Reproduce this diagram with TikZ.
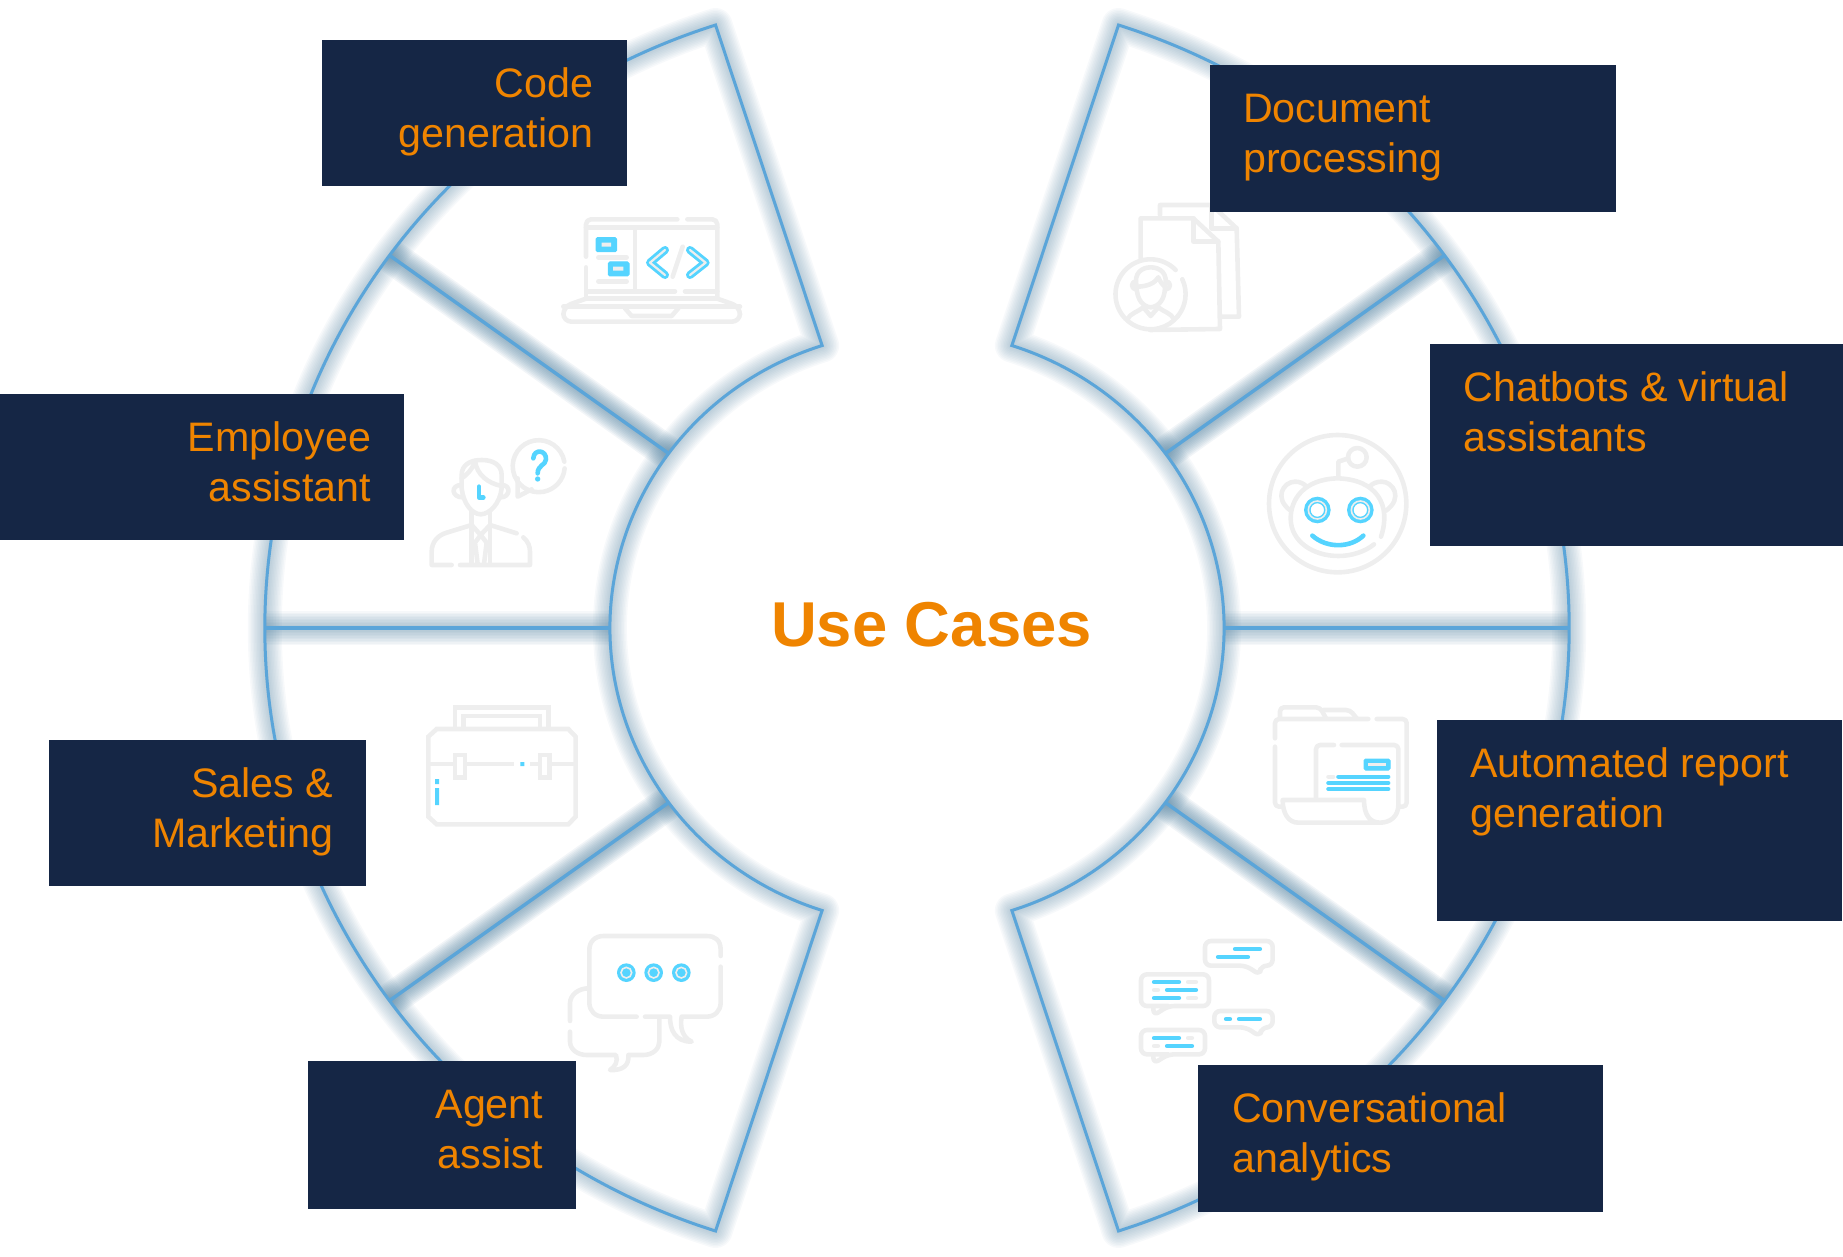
\documentclass[tikz,border=0pt]{standalone}
\usepackage{fontspec}
\setmainfont{Liberation Sans}
\usepackage{xcolor}
\usetikzlibrary{positioning}
\definecolor{ringblue}{HTML}{5BA5D9}
\definecolor{glowblue}{HTML}{4F7F9E}
\definecolor{boxnavy}{HTML}{152645}
\definecolor{textorange}{HTML}{EF8400}
\definecolor{icongrey}{HTML}{EEEEEE}
\definecolor{iconblue}{HTML}{55D4FF}
\tikzset{
	usecase/.style={fill=boxnavy, anchor=north west, inner sep=0},
	usetext/.style={text=textorange, inner sep=0, font=\fontsize{41.2}{50.4}\selectfont, execute at begin node=\strut},
	iconat/.style={shift={#1}, x=.3333pt, y=-.3333pt},
	grey/.style={draw=icongrey, line width=4.6pt, line cap=round, line join=round},
	blue/.style={draw=iconblue, line width=4.6pt, line cap=round, line join=round},
	blueblock/.style={fill=iconblue, draw=iconblue, line width=1pt, rounded corners=1.5pt},
	bar/.style={line width=4.2pt, line cap=round},
	glow/.style={glowblue, line join=round, opacity=#1},
}
\begin{document}
\begin{tikzpicture}[x=1pt, y=-1pt]
	\useasboundingbox (0,0) rectangle (1843,1256);
	% ring corners
	\begin{scope}[shift={(917,628)}]
		\foreach \a in {-72,-36,0,36,72,108,144,180,216,252} {
			\coordinate (out\a) at (\a:652 and 634);
			\coordinate (in\a) at (\a:307 and 297);
		}
	\end{scope}
	\def\ringright{(out-72) arc[start angle=-72, end angle=72, x radius=652, y radius=634] -- (in72) arc[start angle=72, end angle=-72, x radius=307, y radius=297] -- cycle}
	\def\ringleft{(out108) arc[start angle=108, end angle=252, x radius=652, y radius=634] -- (in252) arc[start angle=252, end angle=108, x radius=307, y radius=297] -- cycle}
	% blurred edge
	\foreach \wd in {34,31,...,4} {
		\draw[glow=.045, line width=\wd pt] \ringright;
		\draw[glow=.045, line width=\wd pt] \ringleft;
		\foreach \a in {-36,36,144,216}
			\draw[glow=.075, line width=\wd pt] (in\a) -- (out\a);
		\foreach \a in {0,180}
			\draw[glow=.05, line width=\wd pt] (in\a) -- (out\a);
	}
	\draw[ringblue, line width=3pt] \ringright;
	\draw[ringblue, line width=3pt] \ringleft;
	\foreach \a in {-36,0,36,144,180,216}
		\draw[ringblue, line width=3.4pt] (in\a) -- (out\a);

	% laptop
	\begin{scope}[iconat={(540,180)}]
		\draw[grey, rounded corners=5pt] (138,230) -- (138,118) -- (412,118);
		\draw[grey, rounded corners=5pt] (442,118) -- (532,118) -- (532,356);
		\draw[grey] (138,262) -- (138,356);
		\draw[grey] (138,142) -- (532,142);
		\draw[grey] (285,142) -- (285,334);
		\draw[grey] (140,334) -- (405,334) (435,334) -- (532,334);
		\draw[grey] (138,356) -- (532,356);
		\draw[grey, rounded corners=8pt] (138,356) -- (70,380) -- (70,425) -- (600,425) -- (600,380) -- (532,356);
		\draw[grey] (70,380) -- (600,380);
		\draw[grey] (255,385) -- (275,408) -- (395,408) -- (415,385);
		\draw[grey] (175,232) -- (260,232) (175,304) -- (260,304);
		\draw[grey] (428,200) -- (398,290);
		\draw[blueblock] (168,173) rectangle (230,215);
		\draw[blueblock] (205,246) rectangle (267,288);
		\fill[icongrey] (185,188) rectangle (213,200) (219,260) rectangle (250,272);
		\foreach \pts in {{(375,210) -- (330,248) -- (375,285)},{(450,210) -- (497,248) -- (450,285)}} {
			\draw[blue, line width=8pt] \pts;
			\draw[grey, line width=2.2pt] \pts;
		}
	\end{scope}
	% documents
	\begin{scope}[iconat={(1090,190)}]
		\draw[grey] (210,75) -- (210,45) -- (365,45) -- (440,115) -- (447,380) -- (395,380);
		\draw[grey] (365,45) -- (365,115) -- (440,115);
		\draw[grey] (152,205) -- (152,85) -- (310,85) -- (385,155) -- (390,417) -- (180,420);
		\draw[grey] (310,85) -- (310,155) -- (385,155);
		\draw[grey] (257,240) arc[start angle=-44, end angle=-322, radius=105];
		\draw[grey] (277,268) arc[start angle=-25, end angle=40, radius=105];
		\draw[grey] (140,290) .. controls (130,250) and (155,232) .. (182,232) .. controls (210,232) and (235,250) .. (225,290) .. controls (225,330) and (205,350) .. (182,352) .. controls (160,350) and (140,330) .. (140,290);
		\draw[grey] (140,290) .. controls (170,290) and (195,280) .. (205,262) .. controls (210,275) and (218,285) .. (225,290);
		\draw[grey] (138,298) arc[start angle=90, end angle=270, radius=12];
		\draw[grey] (228,298) arc[start angle=90, end angle=-90, radius=12];
		\draw[grey] (112,388) .. controls (120,370) and (145,365) .. (160,352) -- (182,378) -- (205,352) .. controls (220,365) and (245,370) .. (252,388);
	\end{scope}
	% employee
	\begin{scope}[iconat={(410,420)}]
		\draw[grey] (155,205) -- (155,165) .. controls (155,135) and (180,120) .. (215,120) .. controls (250,120) and (275,135) .. (275,165) -- (275,205) .. controls (270,250) and (240,282) .. (212,283) .. controls (185,282) and (160,250) .. (155,205);
		\draw[grey] (155,175) .. controls (170,165) and (190,145) .. (195,122) .. controls (200,165) and (235,190) .. (275,198);
		\draw[grey] (155,195) .. controls (120,195) and (125,232) .. (157,232);
		\draw[grey] (275,195) .. controls (305,195) and (300,232) .. (273,232);
		\draw[grey] (185,275) -- (185,432) (240,275) -- (240,432);
		\draw[grey] (125,435) -- (65,435) -- (65,395) .. controls (65,365) and (85,345) .. (110,338) -- (185,315) -- (212,345) -- (240,315) -- (320,340);
		\draw[grey] (340,352) .. controls (355,365) and (360,380) .. (360,395) -- (360,435) -- (150,435);
		\draw[grey] (212,345) -- (195,368) -- (203,432) (212,345) -- (230,368) -- (222,432);
		\draw[blue] (207,200) -- (207,232) -- (220,232);
		\draw[grey] (463,125) arc[start angle=-10, end angle=-355, radius=78];
		\draw[grey] (323,175) -- (323,230) -- (365,208);
		\draw[blue] (370,115) .. controls (372,85) and (410,90) .. (408,118) .. controls (408,135) and (383,135) .. (383,160);
		\fill[iconblue] (383,177) circle (8);
	\end{scope}
	% robot
	\begin{scope}[iconat={(1250,420)}]
		\draw[grey] (263,251) circle (206);
		\draw[grey] (393,350) .. controls (425,255) and (380,178) .. (262,175) .. controls (160,178) and (122,240) .. (122,295) .. controls (122,365) and (190,408) .. (265,408) .. controls (305,408) and (345,395) .. (372,373);
		\draw[grey] (122,272) .. controls (70,235) and (100,185) .. (135,185) .. controls (150,185) and (160,190) .. (170,200);
		\draw[grey] (408,272) .. controls (460,235) and (430,185) .. (395,185) .. controls (380,185) and (368,190) .. (358,200);
		\draw[grey] (265,172) -- (265,125) -- (295,115);
		\draw[grey] (322,112) circle (28);
		\foreach \ex in {202,331} {
			\draw[iconblue, line width=6.5pt] (\ex,270) circle (30);
			\draw[icongrey, line width=1.6pt] (\ex,270) circle (27);
		}
		\draw[blue] (187,347) .. controls (230,385) and (300,385) .. (340,347);
	\end{scope}
	% briefcase
	\begin{scope}[iconat={(410,690)}]
		\draw[grey, line cap=butt, line join=miter] (135,112) -- (135,52) -- (415,52) -- (415,112);
		\draw[grey, line cap=butt, line join=miter] (160,112) -- (160,78) -- (390,78) -- (390,112);
		\draw[grey, line cap=butt, line join=miter] (55,140) -- (80,117) -- (475,117) -- (497,140) -- (497,380) -- (475,403) -- (80,403) -- (55,380) -- cycle;
		\draw[grey, line cap=butt] (55,222) -- (135,222) (165,222) -- (312,222) (360,222) -- (390,222) (418,222) -- (497,222);
		\draw[grey, line cap=butt, line join=miter] (135,195) rectangle (165,262) (390,195) rectangle (418,262);
		\fill[iconblue] (331,216) rectangle (343,228) (75,267) rectangle (87,282) (75,294) rectangle (87,345);
	\end{scope}
	% folder
	\begin{scope}[iconat={(1260,690)}]
		\draw[grey, rounded corners=4pt] (45,145) -- (45,87) -- (325,87);
		\draw[grey, rounded corners=4pt] (350,87) -- (440,87) -- (440,350) -- (420,350);
		\draw[grey, rounded corners=4pt] (45,170) -- (45,350) -- (65,350);
		\draw[grey, rounded corners=4pt] (60,85) -- (60,52) -- (180,52) -- (198,85);
		\draw[grey, rounded corners=4pt] (190,60) -- (270,60) -- (290,85);
		\draw[grey, rounded corners=4pt] (168,325) -- (168,165) -- (222,165);
		\draw[grey, rounded corners=4pt] (245,165) -- (415,165) -- (415,345);
		\draw[grey] (415,345) .. controls (415,380) and (390,398) .. (360,398) .. controls (330,398) and (312,375) .. (312,330) -- (68,330) .. controls (68,370) and (85,398) .. (115,398) -- (360,398);
		\draw[blueblock] (312,207) rectangle (390,240);
		\fill[icongrey] (325,218) rectangle (378,228);
		\draw[icongrey, bar] (205,260) -- (220,260);
		\draw[iconblue, bar] (235,260) -- (385,260) (205,279) -- (385,279) (205,297) -- (385,297);
	\end{scope}
	% chat bubbles
	\begin{scope}[iconat={(560,920)}]
		\draw[grey] (482,108) -- (482,90) .. controls (482,60) and (465,48) .. (440,48) -- (130,48) .. controls (105,48) and (88,65) .. (88,90) -- (88,248) .. controls (88,272) and (105,290) .. (130,290) -- (230,290);
		\draw[grey] (255,290) -- (330,290) .. controls (330,330) and (345,365) .. (395,365) .. controls (365,350) and (360,320) .. (365,290) -- (440,290) .. controls (465,290) and (482,272) .. (482,248) -- (482,140);
		\draw[grey] (85,205) .. controls (55,205) and (30,225) .. (30,250) -- (30,303);
		\draw[grey] (30,335) -- (30,365) .. controls (30,390) and (55,405) .. (80,405) -- (168,405) .. controls (175,425) and (165,440) .. (150,450) .. controls (190,452) and (208,435) .. (205,405) -- (250,405) .. controls (280,405) and (298,385) .. (298,365) -- (298,295);
		\foreach \dx in {199,281,364} {
			\fill[iconblue] (\dx,158) circle (28);
			\draw[icongrey, line width=1.6pt] (\dx,158) circle (16);
		}
	\end{scope}
	% conversation
	\begin{scope}[iconat={(1120,925)}]
		\draw[grey, rounded corners=6pt] (378,122) -- (255,122) -- (255,48) -- (458,48) -- (458,122) -- (422,122) -- (420,150) -- cycle;
		\draw[grey, rounded corners=6pt] (145,243) -- (63,243) -- (63,148) -- (267,148) -- (267,243) -- (145,243) -- (100,272) -- (100,243);
		\draw[grey, rounded corners=6pt] (378,307) -- (283,307) -- (283,258) -- (458,258) -- (458,307) -- (425,307) -- (420,335) -- cycle;
		\draw[grey, rounded corners=6pt] (145,388) -- (63,388) -- (63,315) -- (255,315) -- (255,388) -- (145,388) -- (100,416) -- (100,388);
		\draw[iconblue, bar] (345,72) -- (420,72) (294,96) -- (384,96);
		\draw[iconblue, bar] (102,171) -- (177,171) (141,195) -- (228,195) (102,219) -- (177,219);
		\draw[icongrey, bar] (204,171) -- (228,171) (102,195) -- (114,195) (204,219) -- (228,219);
		\draw[iconblue, bar] (318,282) -- (330,282) (357,282) -- (420,282);
		\draw[iconblue, bar] (102,339) -- (177,339) (141,363) -- (216,363);
		\draw[icongrey, bar] (204,339) -- (216,339) (102,363) -- (114,363);
	\end{scope}

	\node[usecase, minimum width=305pt, minimum height=146pt] (code) at (322,40) {};
	\node[usetext, align=right, anchor=north east] (codetext) at ([xshift=-34pt, yshift=-27pt]code.north east) {Code\\generation};
	\node[usecase, minimum width=404pt, minimum height=146pt] (employee) at (0,394) {};
	\node[usetext, align=right, anchor=north east] (employeetext) at ([xshift=-33pt, yshift=-27pt]employee.north east) {Employee\\assistant};
	\node[usecase, minimum width=317pt, minimum height=146pt] (sales) at (49,740) {};
	\node[usetext, align=right, anchor=north east] (salestext) at ([xshift=-33pt, yshift=-27pt]sales.north east) {Sales \&\\Marketing};
	\node[usecase, minimum width=268pt, minimum height=148pt] (agent) at (308,1061) {};
	\node[usetext, align=right, anchor=north east] (agenttext) at ([xshift=-33pt, yshift=-29pt]agent.north east) {Agent\\assist};
	\node[usecase, minimum width=406pt, minimum height=147pt] (document) at (1210,65) {};
	\node[usetext, align=left, anchor=north west] (documenttext) at ([xshift=33pt, yshift=-29pt]document.north west) {Document\\processing};
	\node[usecase, minimum width=413pt, minimum height=202pt] (chatbots) at (1430,344) {};
	\node[usetext, align=left, anchor=north west] (chatbotstext) at ([xshift=33.5pt, yshift=-27pt]chatbots.north west) {Chatbots \& virtual\\assistants};
	\node[usecase, minimum width=405pt, minimum height=201pt] (report) at (1437,720) {};
	\node[usetext, align=left, anchor=north west] (reporttext) at ([xshift=33pt, yshift=-27pt]report.north west) {Automated report\\generation};
	\node[usecase, minimum width=405pt, minimum height=147pt] (analytics) at (1198,1065) {};
	\node[usetext, align=left, anchor=north west] (analyticstext) at ([xshift=34pt, yshift=-27pt]analytics.north west) {Conversational\\analytics};

	\node[text=textorange, font=\bfseries\fontsize{63.4}{70}\selectfont] (title) at (931.5,625) {Use Cases};
\end{tikzpicture}
\end{document}
